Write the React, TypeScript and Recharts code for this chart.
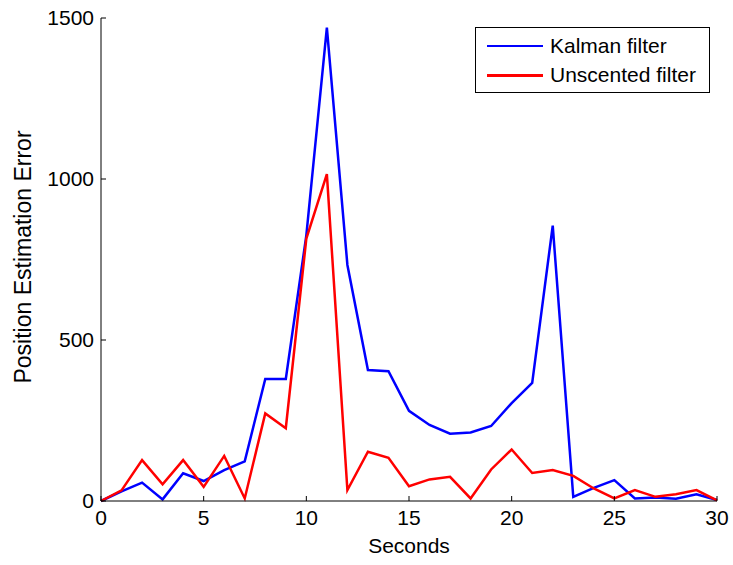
import { LineChart, Line, XAxis, YAxis, Legend } from 'recharts';

const seconds = [
  0, 1, 2, 3, 4, 5, 6, 7, 8, 9, 10, 11, 12, 13, 14, 15, 16, 17, 18, 19, 20, 21, 22, 23, 24, 25, 26, 27, 28,
  29, 30,
];
const kalman = [
  0, 30, 57, 5, 86, 62, 96, 123, 379, 379, 825, 1470, 733, 407, 403, 280, 236, 209, 213, 233, 304, 367, 855,
  13, 41, 65, 8, 11, 7, 21, 3,
];
const unscented = [
  0, 33, 127, 52, 127, 44, 140, 8, 272, 226, 815, 1015, 34, 153, 134, 46, 67, 75, 8, 98, 160, 87, 96, 78,
  39, 8, 34, 13, 21, 34, 2,
];
const xTicks = [0, 5, 10, 15, 20, 25, 30];
const yTicks = [0, 500, 1000, 1500];

const FONT = '"Liberation Sans", Arial, Helvetica, sans-serif';

const data = seconds.map((t, i) => ({ t, kalman: kalman[i], unscented: unscented[i] }));

const legendItems = [
  { name: 'Kalman filter', color: '#0000ff' },
  { name: 'Unscented filter', color: '#ff0000' },
];

function LegendBox() {
  return (
    <div
      style={{
        border: '1px solid #000',
        background: '#fff',
        width: 235,
        height: 66,
        boxSizing: 'border-box',
        fontFamily: FONT,
        fontSize: 21,
        color: '#000',
        paddingTop: 3,
      }}
    >
      {legendItems.map((item) => (
        <div key={item.name} style={{ display: 'flex', alignItems: 'center', height: 29.5 }}>
          <div style={{ width: 56, height: 2.5, background: item.color, marginLeft: 11, marginRight: 7 }} />
          <span>{item.name}</span>
        </div>
      ))}
    </div>
  );
}

const YLabel = () => (
  <text
    x={23}
    y={257}
    transform="rotate(-90 23 257)"
    textAnchor="middle"
    dominantBaseline="central"
    fontSize={23}
    fontFamily={FONT}
    fill="#000"
  >
    Position Estimation Error
  </text>
);

export default function App() {
  const tickStyle = { fill: '#000', fontSize: 21, fontFamily: FONT };
  const axisStroke = { stroke: '#000', strokeWidth: 1 };

  return (
    <div style={{ position: 'absolute', left: 0, top: 0, width: 733, height: 565, background: '#fff' }}>
      <LineChart
        width={733}
        height={565}
        data={data}
        margin={{ top: 18, right: 16, left: 0, bottom: 0 }}
        style={{ fontFamily: FONT }}
      >
        <XAxis
          dataKey="t"
          type="number"
          domain={[0, 30]}
          ticks={xTicks}
          height={64}
          tick={tickStyle}
          tickSize={-5}
          tickMargin={14}
          axisLine={axisStroke}
          tickLine={axisStroke}
          label={{ value: 'Seconds', position: 'insideBottom', offset: 12, fill: '#000', fontSize: 21 }}
        />
        <XAxis
          xAxisId="top"
          orientation="top"
          type="number"
          domain={[0, 30]}
          ticks={xTicks}
          height={0}
          tick={false}
          tickSize={-5}
          axisLine={axisStroke}
          tickLine={axisStroke}
        />
        <YAxis
          type="number"
          domain={[0, 1500]}
          ticks={yTicks}
          width={101}
          tick={tickStyle}
          tickSize={-5}
          tickMargin={12}
          axisLine={axisStroke}
          tickLine={axisStroke}
          label={{ content: () => <YLabel /> }}
        />
        <YAxis
          yAxisId="right"
          orientation="right"
          type="number"
          domain={[0, 1500]}
          ticks={yTicks}
          width={0}
          tick={false}
          tickSize={-5}
          axisLine={axisStroke}
          tickLine={axisStroke}
        />
        <Legend
          layout="vertical"
          align="center"
          verticalAlign="middle"
          content={() => <LegendBox />}
          wrapperStyle={{ left: 475, top: 27, width: 235, height: 66 }}
        />
        <Line
          type="linear"
          dataKey="kalman"
          name="Kalman filter"
          stroke="#0000ff"
          strokeWidth={2.5}
          dot={false}
          isAnimationActive={false}
        />
        <Line
          type="linear"
          dataKey="unscented"
          name="Unscented filter"
          stroke="#ff0000"
          strokeWidth={2.5}
          dot={false}
          isAnimationActive={false}
        />
      </LineChart>
    </div>
  );
}
